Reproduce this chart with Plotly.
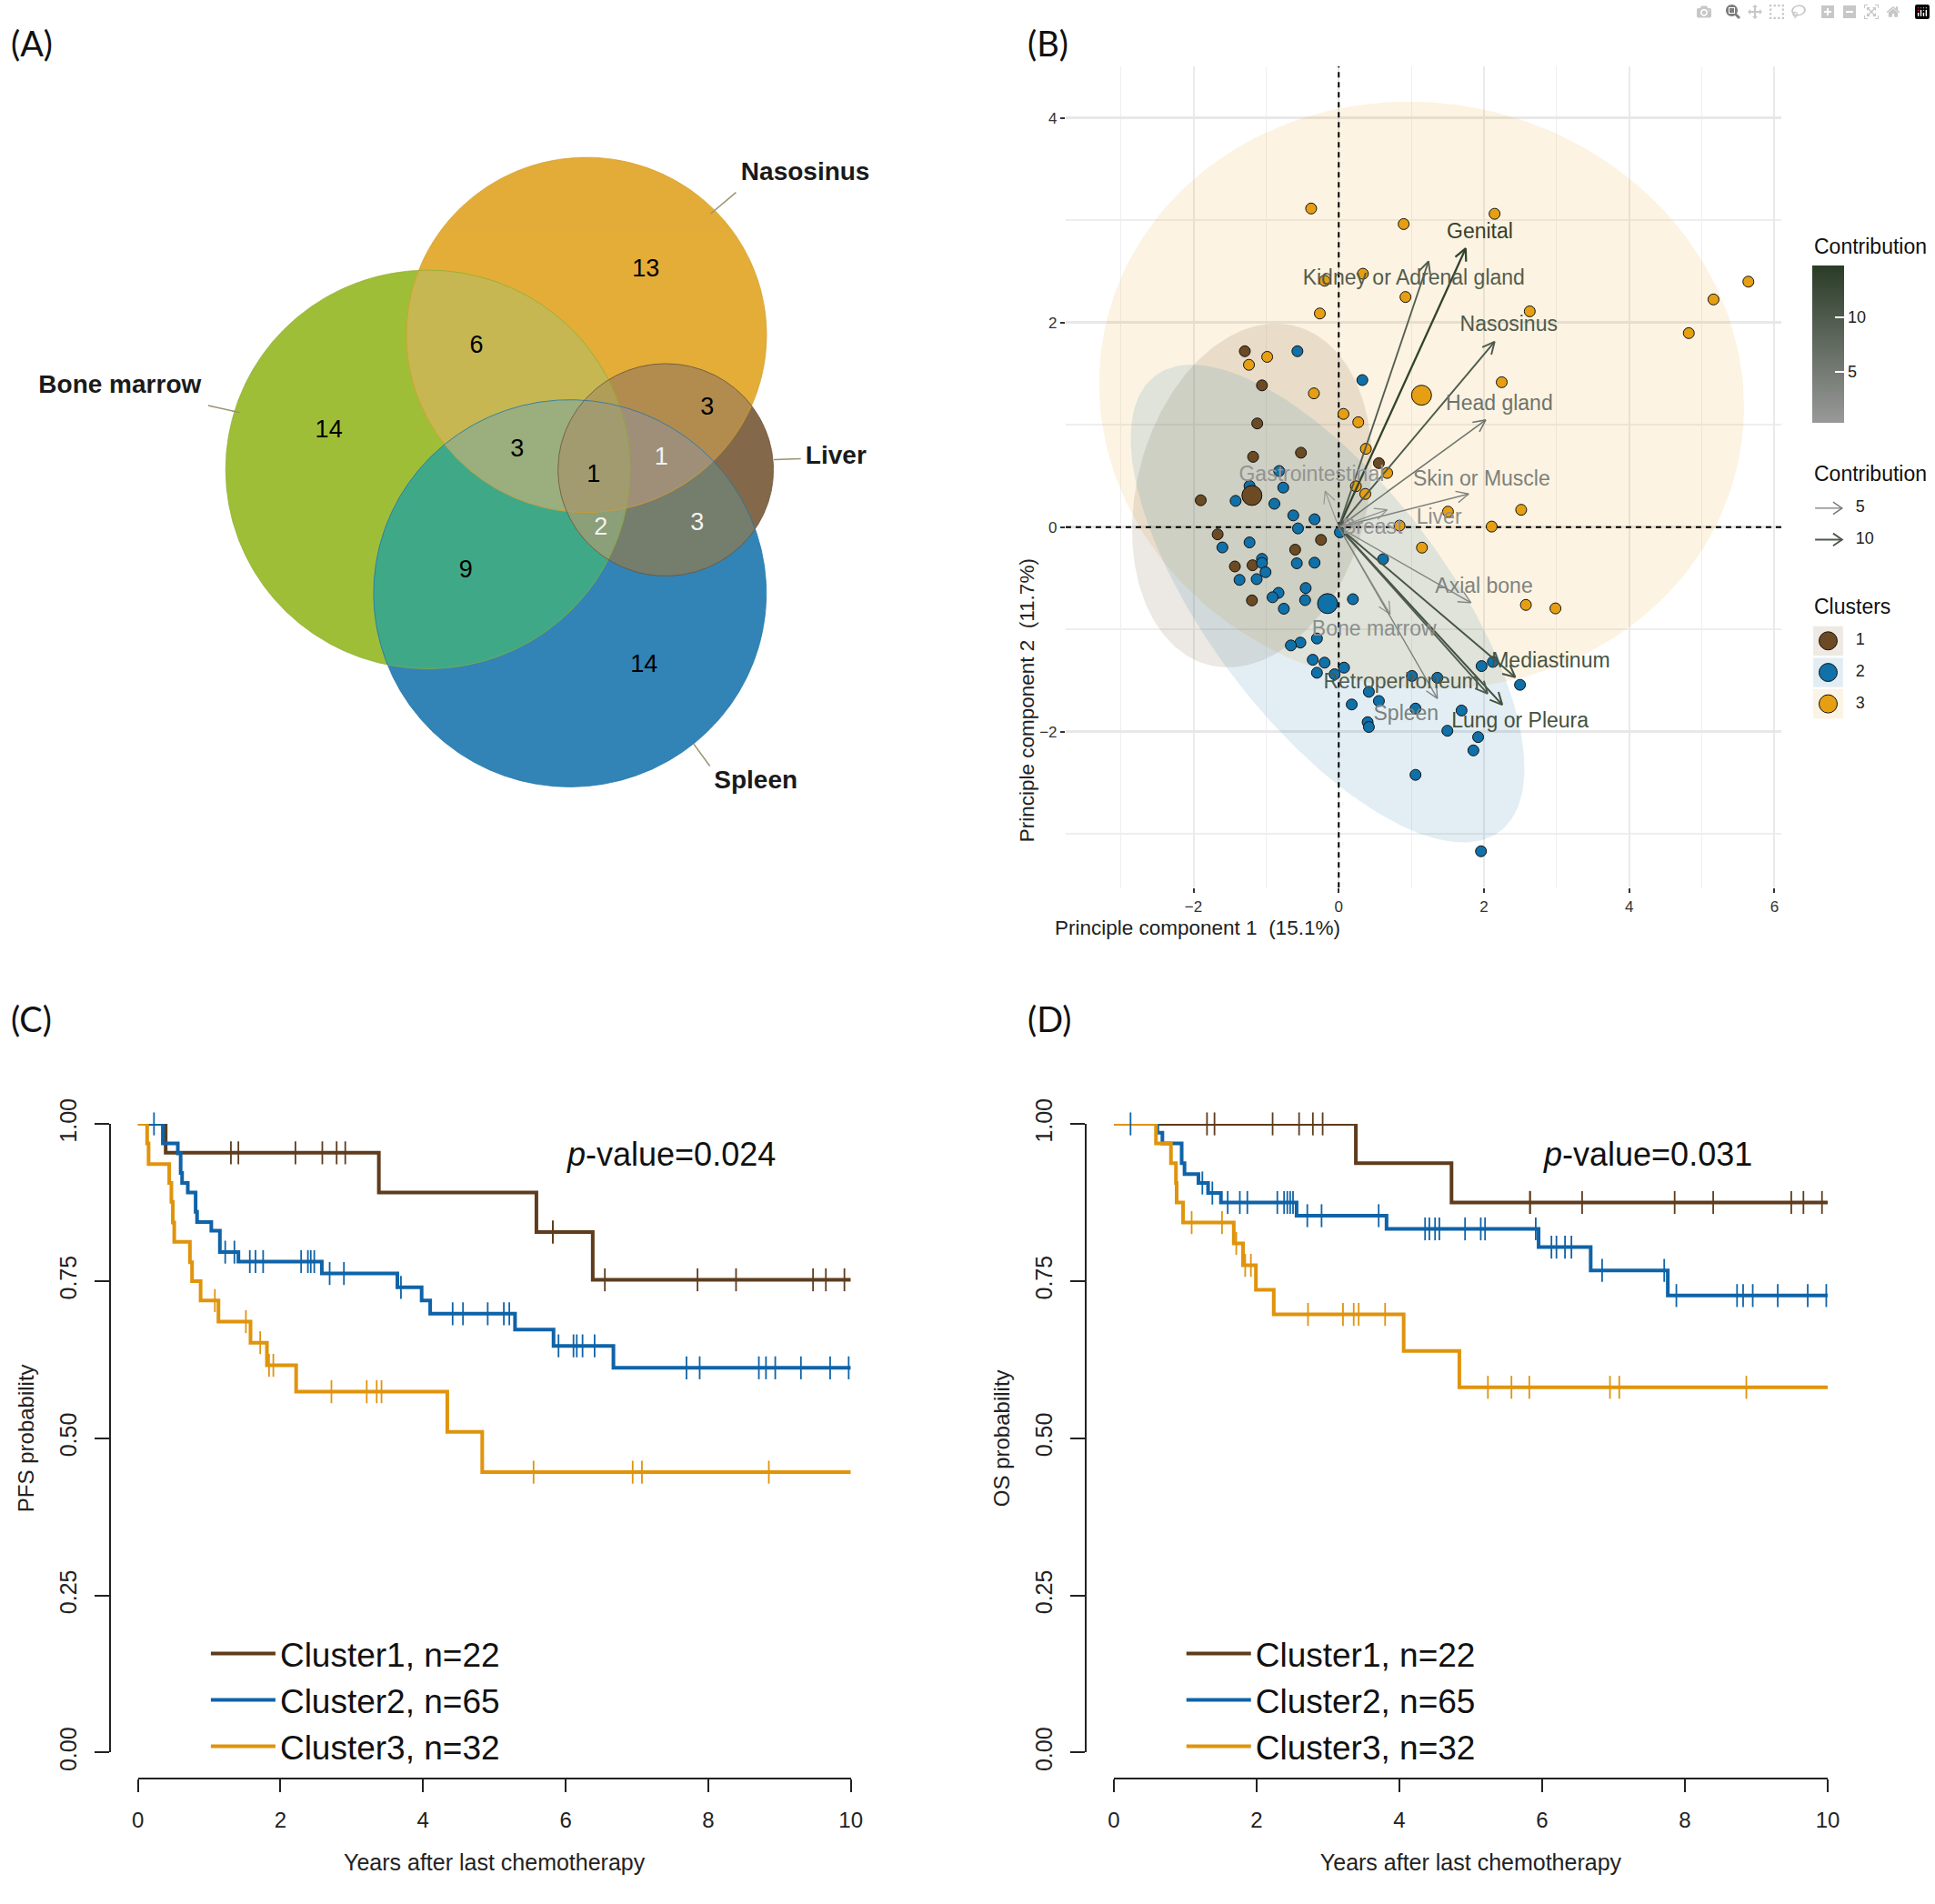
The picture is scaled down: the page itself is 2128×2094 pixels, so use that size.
import numpy as np
import plotly.graph_objects as go
from itertools import combinations

W = 2128
H = 2094

# ---- panel A, venn
venn_sets = ["Bone marrow", "Nasosinus", "Spleen", "Liver"]
venn_cx = [468, 644, 625.7, 732]
venn_cy = [500, 348.5, 639.5, 500.4]
venn_r = [224.5, 200, 218, 119.6]
venn_edge = ["#8FAE30", "#D49E2C", "#1F76AC", "#6B5238"]
venn_label_x = [126, 887, 832, 921]
venn_label_y = [406, 167, 852, 486]
venn_leader_x = [[224, 259], [782, 810], [763, 781], [852, 882]]
venn_leader_y = [[428, 436], [212, 188], [809, 834], [489, 488]]
venn_counts = ["13", "6", "14", "3", "3", "1", "1", "2", "3", "9", "14"]
venn_count_x = [710, 522, 358, 778, 567, 652, 727, 660, 767, 510, 708]
venn_count_y = [276, 362, 457, 431, 478, 507, 488, 566, 561, 615, 721]
venn_count_color = ["black"] * 6 + ["#F2F2F2", "#F2F2F2", "#F2F2F2", "black", "black"]

# region colours, keyed by membership in (bone marrow, nasosinus, spleen, liver)
region_colors = {
    (0,): "#9FBE38",
    (1,): "#E3AD38",
    (2,): "#3284B6",
    (3,): "#84684A",
    (0, 1): "#C6B752",
    (0, 2): "#3FA987",
    (0, 3): "#A2A060",
    (1, 2): "#A5A07A",
    (1, 3): "#B28C4E",
    (2, 3): "#757D6C",
    (0, 1, 2): "#9AAE7E",
    (0, 1, 3): "#B09D57",
    (0, 2, 3): "#8B9F78",
    (1, 2, 3): "#A08F78",
    (0, 1, 2, 3): "#A29B70",
}

# ---- panel B, biplot
pc1_c1 = [-1.293, -1.057, -1.122, -0.52, -1.179, 0.553, -1.90, -1.667, -0.244, -0.60, -1.43, -1.187, -1.195]
pc2_c1 = [1.72, 1.386, 1.014, 0.728, 0.688, 0.626, 0.263, -0.07, -0.124, -0.22, -0.384, -0.372, -0.716]
pc1_c2 = [-0.569, 0.325, -0.82, -1.228, -0.764, -1.42, -0.886, -0.626, -0.333, -0.561, 0.016, -1.228, -1.602,
          -1.057, -1.057, -0.577, -0.333, 0.61, -1.008, -1.366, -1.13, -0.455, -0.829, -0.911, -0.463, 0.195,
          -0.756, -0.30, -0.528, -0.659, -0.358, -0.195, 0.073, -0.30, -0.057, 1.008, 1.358, 1.967, 2.122,
          2.496, 0.415, 0.553, 0.179, 1.057, 1.691, 0.398, 0.415, 1.496, 1.919, 1.854, 1.057, 1.959]
pc2_c2 = [1.72, 1.438, 0.549, 0.403, 0.387, 0.257, 0.229, 0.115, 0.077, -0.012, -0.05, -0.149, -0.198,
          -0.31, -0.35, -0.353, -0.347, -0.313, -0.44, -0.515, -0.508, -0.595, -0.642, -0.685, -0.713, -0.704,
          -0.797, -1.088, -1.128, -1.156, -1.296, -1.324, -1.373, -1.423, -1.438, -1.454, -1.472, -1.358, -1.317,
          -1.541, -1.609, -1.699, -1.733, -1.773, -1.792, -1.906, -1.953, -1.99, -2.052, -2.182, -2.421, -3.168]
pc1_c3 = [-0.38, 0.894, 2.146, 0.333, -0.195, 0.919, -0.26, 2.63, 5.64, 5.16, 4.82, -0.985, -1.236, 2.244,
          -0.342, 0.065, 0.269, 0.374, 0.667, 0.236, 0.366, 1.504, 2.512, 0.837, 2.106, 1.146, 2.577, 2.984]
pc2_c3 = [3.115, 2.963, 3.063, 2.477, 2.409, 2.25, 2.089, 2.11, 2.40, 2.226, 1.897, 1.665, 1.587, 1.417,
          1.308, 1.107, 1.026, 0.766, 0.53, 0.40, 0.325, 0.152, 0.17, 0.015, 0.006, -0.2, -0.76, -0.794]
centroid_x = [-1.195, -0.154, 1.14]
centroid_y = [0.31, -0.747, 1.29]
cluster_colors = ["#6B4A24", "#1070A8", "#E69F12"]

# ellipse extents: half width, half height, correlation
ell_ax = [1.65, 2.71, 4.44]
ell_ay = [1.68, 2.335, 2.87]
ell_rho = [0.2, -0.69, -0.04]
ell_fill = ["rgba(107,74,36,0.13)", "rgba(16,112,168,0.12)", "rgba(230,159,18,0.12)"]

organs = ["Genital", "Kidney or Adrenal gland", "Nasosinus", "Head gland", "Skin or Muscle", "Liver",
          "Gastrointestinal", "Breast", "Axial bone", "Bone marrow", "Mediastinum", "Lung or Pleura",
          "Retroperitoneum", "Spleen"]
load_x = [1.748, 1.236, 2.146, 2.024, 1.789, 0.667, -0.187, 0.25, 1.821, 0.707, 2.431, 2.252, 2.049, 1.358]
load_y = [2.725, 2.598, 1.813, 1.048, 0.325, 0.17, 0.353, 0.03, -0.738, -0.85, -1.466, -1.736, -1.627, -1.674]
contrib = [13.8, 9.5, 10.0, 6.0, 4.0, 1.8, 1.2, 1.0, 3.5, 2.0, 11.0, 11.5, 10.0, 4.0]
organ_label_x = [1.943, 1.033, 2.341, 2.211, 1.967, 1.382, -0.374, 0.463, 2.0, 0.488, 2.919, 2.496, 0.862, 0.927]
organ_label_y = [2.88, 2.424, 1.968, 1.193, 0.462, 0.084, 0.502, -0.01, -0.589, -1.01, -1.32, -1.906, -1.525, -1.838]

# ---- panels C and D, survival curves
pfs_t = [
    [0, 0.39, 3.38, 5.59, 6.38, 10],
    [0, .35, .56, .60, .62, .70, .81, .83, 1.03, 1.15, 1.41, 2.58, 3.64, 3.98, 4.10, 5.29, 5.83, 6.67, 10],
    [0, .13, .15, .44, .47, .49, .51, .73, .76, .88, 1.13, 1.58, 1.81, 2.22, 4.34, 4.83, 10],
]
pfs_s = [
    [1, .954, .891, .828, .752, .752],
    [1, .969, .953, .922, .906, .891, .86, .844, .83, .796, .781, .762, .74, .719, .698, .673, .647, .612, .612],
    [1, .969, .936, .906, .876, .843, .8125, .78, .75, .719, .6855, .652, .616, .574, .51, .446, .446],
]
pfs_cens_t = [
    [1.305, 1.41, 2.21, 2.587, 2.788, 2.909, 5.82, 5.82, 6.55, 7.85, 8.39, 9.47, 9.65, 9.91],
    [.226, 1.225, 1.354, 1.57, 1.65, 1.757, 2.29, 2.385, 2.425, 2.474, 2.69, 2.89, 3.69, 4.415, 4.56, 4.907,
     5.133, 5.21, 5.9, 6.11, 6.156, 6.237, 6.406, 7.695, 7.88, 8.71, 8.81, 8.94, 9.3, 9.71, 9.97],
    [1.08, 1.515, 1.716, 1.84, 1.90, 2.715, 3.21, 3.35, 3.417, 5.55, 6.94, 7.07, 8.85],
]
pfs_cens_s = [
    [.954] * 6 + [.828] * 2 + [.752] * 6,
    [1.0] + [.796] * 2 + [.781] * 7 + [.762] * 2 + [.74] + [.698] * 5 + [.647] * 5 + [.612] * 8,
    [.719, .6855, .652, .616, .616] + [.574] * 4 + [.446] * 4,
]
os_t = [
    [0, 3.39, 4.73, 10],
    [0, .61, .68, .95, .99, 1.185, 1.32, 1.5, 2.56, 3.82, 5.95, 6.68, 7.76, 10],
    [0, .59, .80, .87, .88, .97, 1.68, 1.81, 1.99, 2.24, 4.06, 4.84, 10],
]
os_s = [
    [1, .9375, .875, .875],
    [1, .986, .969, .9375, .92, .906, .89, .875, .854, .833, .804, .767, .727, .727],
    [1, .969, .9375, .906, .875, .843, .81, .775, .736, .697, .639, .581, .581],
]
os_cens_t = [
    [1.305, 1.41, 2.224, 2.595, 2.788, 2.925, 5.83, 5.83, 6.56, 7.856, 8.396, 9.49, 9.66, 9.92],
    [.234, 1.24, 1.38, 1.595, 1.765, 1.87, 2.29, 2.385, 2.43, 2.47, 2.51, 2.71, 2.91, 3.71, 4.36, 4.42, 4.50,
     4.56, 4.92, 5.14, 5.2, 5.91, 6.13, 6.2, 6.32, 6.41, 6.84, 7.71, 7.88, 8.73, 8.815, 8.95, 9.3, 9.72, 9.98],
    [1.09, 1.515, 1.715, 1.84, 1.92, 2.72, 3.21, 3.36, 3.43, 3.8, 5.24, 5.57, 5.82, 6.95, 7.08, 8.86],
]
os_cens_s = [
    [1.0] * 6 + [.875] * 8,
    [1.0, .906, .89] + [.875] * 8 + [.854] * 3 + [.833] * 8 + [.804] * 4 + [.767] * 2 + [.727] * 7,
    [.843, .843, .81, .775, .775] + [.697] * 5 + [.581] * 6,
]
km_names = ["Cluster1, n=22", "Cluster2, n=65", "Cluster3, n=32"]
km_colors = ["#5E3C1D", "#0F63A8", "#E0940C"]
km_yticks = [0, 0.25, 0.5, 0.75, 1]
km_xticks = [0, 2, 4, 6, 8, 10]

SANS = "Liberation Sans"
SCALE_X = 80.6   # biplot pixels per unit, used for the arrow heads
SCALE_Y = 115.2


def frac_x(px):
    return px / W


def frac_y(px):
    return 1 - px / H


def lerp_color(c):
    # same ramp as the colorbar
    t = (c - 0.37) / (14.76 - 0.37)
    low = np.array([153, 153, 153])
    high = np.array([42, 60, 39])
    r, g, b = (low + (high - low) * t).astype(int)
    return f"rgb({r},{g},{b})"


fig = go.Figure()

# ---- panel A
theta = np.linspace(0, 2 * np.pi, 1441)


def circle_intersection(members):
    pts_x = []
    pts_y = []
    for i in members:
        px = venn_cx[i] + venn_r[i] * np.cos(theta)
        py = venn_cy[i] + venn_r[i] * np.sin(theta)
        keep = np.ones(len(px), dtype=bool)
        for j in members:
            if j != i:
                keep &= (px - venn_cx[j]) ** 2 + (py - venn_cy[j]) ** 2 <= venn_r[j] ** 2
        pts_x.extend(px[keep])
        pts_y.extend(py[keep])
    pts_x = np.array(pts_x)
    pts_y = np.array(pts_y)
    order = np.argsort(np.arctan2(pts_y - pts_y.mean(), pts_x - pts_x.mean()))
    return pts_x[order], pts_y[order]


# paint by growing overlap, later regions sit on top of the earlier ones
for n in range(1, 5):
    for members in combinations(range(4), n):
        rx, ry = circle_intersection(members)
        if len(rx) < 3:
            continue
        fig.add_trace(go.Scatter(
            x=rx, y=ry, mode="lines", fill="toself", line=dict(width=0),
            fillcolor=region_colors[members], xaxis="x", yaxis="y",
            showlegend=False, hoverinfo="skip",
        ))

for i in range(4):
    fig.add_trace(go.Scatter(
        x=venn_cx[i] + venn_r[i] * np.cos(theta), y=venn_cy[i] + venn_r[i] * np.sin(theta),
        mode="lines", line=dict(color=venn_edge[i], width=1), opacity=0.75,
        xaxis="x", yaxis="y", showlegend=False, hoverinfo="skip",
    ))
    fig.add_trace(go.Scatter(
        x=venn_leader_x[i], y=venn_leader_y[i], mode="lines",
        line=dict(color="#9A9270", width=1.5), xaxis="x", yaxis="y",
        showlegend=False, hoverinfo="skip",
    ))

fig.add_trace(go.Scatter(
    x=venn_count_x, y=venn_count_y, mode="text", text=venn_counts,
    textfont=dict(family=SANS, size=27, color=venn_count_color),
    xaxis="x", yaxis="y", showlegend=False, hoverinfo="skip",
))
fig.add_trace(go.Scatter(
    x=venn_label_x, y=venn_label_y, mode="text", text=[f"<b>{s}</b>" for s in venn_sets],
    textfont=dict(family=SANS, size=28, color="#1A1A1A"),
    xaxis="x", yaxis="y", showlegend=False, hoverinfo="skip",
))

# ---- panel B
t_ell = np.linspace(0, 2 * np.pi, 240)
for k in [2, 0, 1]:
    phi = np.arccos(ell_rho[k])
    fig.add_trace(go.Scatter(
        x=centroid_x[k] + ell_ax[k] * np.cos(t_ell),
        y=centroid_y[k] + ell_ay[k] * np.cos(t_ell - phi),
        mode="lines", fill="toself", line=dict(width=0), fillcolor=ell_fill[k],
        xaxis="x2", yaxis="y2", showlegend=False, hoverinfo="skip",
    ))

fig.add_trace(go.Scatter(
    x=[-3.76, 6.1], y=[0, 0], mode="lines", line=dict(color="black", width=2, dash="6px,5px"),
    xaxis="x2", yaxis="y2", showlegend=False, hoverinfo="skip",
))
fig.add_trace(go.Scatter(
    x=[0, 0], y=[-3.524, 4.505], mode="lines", line=dict(color="black", width=2, dash="6px,5px"),
    xaxis="x2", yaxis="y2", showlegend=False, hoverinfo="skip",
))

for px_, py_, col in zip([pc1_c1, pc1_c2, pc1_c3], [pc2_c1, pc2_c2, pc2_c3], cluster_colors):
    fig.add_trace(go.Scatter(
        x=px_, y=py_, mode="markers",
        marker=dict(size=12, color=col, line=dict(color="#111111", width=1)),
        xaxis="x2", yaxis="y2", showlegend=False,
    ))
fig.add_trace(go.Scatter(
    x=centroid_x, y=centroid_y, mode="markers",
    marker=dict(size=22, color=cluster_colors, line=dict(color="#111111", width=1)),
    xaxis="x2", yaxis="y2", showlegend=False,
))

for i in range(len(organs)):
    ang = np.arctan2(load_y[i] * SCALE_Y, load_x[i] * SCALE_X)
    b1 = ang + np.pi - 0.45
    b2 = ang + np.pi + 0.45
    hx = [load_x[i] + 15 * np.cos(b1) / SCALE_X, load_x[i], load_x[i] + 15 * np.cos(b2) / SCALE_X]
    hy = [load_y[i] + 15 * np.sin(b1) / SCALE_Y, load_y[i], load_y[i] + 15 * np.sin(b2) / SCALE_Y]
    fig.add_trace(go.Scatter(
        x=[0, load_x[i], None] + hx, y=[0, load_y[i], None] + hy, mode="lines",
        line=dict(color=lerp_color(contrib[i]), width=1 + contrib[i] * 0.09),
        xaxis="x2", yaxis="y2", showlegend=False, hoverinfo="skip",
    ))
fig.add_trace(go.Scatter(
    x=organ_label_x, y=organ_label_y, mode="text", text=organs,
    textfont=dict(family=SANS, size=23, color=[lerp_color(c) for c in contrib]),
    xaxis="x2", yaxis="y2", showlegend=False, hoverinfo="skip",
))

# hidden points at the arrow tips, they carry the colorbar
fig.add_trace(go.Scatter(
    x=load_x, y=load_y, mode="markers",
    marker=dict(
        size=1, opacity=0, color=contrib, cmin=0.37, cmax=14.76,
        colorscale=[[0, "#999999"], [1, "#2A3C27"]],
        colorbar=dict(
            x=frac_x(2005), xanchor="left", xpad=0,
            y=frac_y(270), yanchor="top", ypad=0,
            len=177 / H, lenmode="fraction", thickness=35, thicknessmode="pixels",
            outlinewidth=0, tickvals=[5, 10], ticktext=["5", "10"], ticks="inside",
            ticklen=10, tickwidth=1.5, tickcolor="white",
            tickfont=dict(family=SANS, size=18, color="#222222"),
        ),
    ),
    xaxis="x2", yaxis="y2", showlegend=False, hoverinfo="skip",
))

# legend keys to the right of the biplot, x5/y5 run in pixels
key_arrow_y = [543.6, 579]
key_arrow_val = [5, 10]
for yy, val in zip(key_arrow_y, key_arrow_val):
    fig.add_trace(go.Scatter(
        x=[2008, 2038, None, 2028, 2038, 2028], y=[yy, yy, None, yy - 7, yy, yy + 7], mode="lines",
        line=dict(color=lerp_color(val), width=1 + val * 0.09),
        xaxis="x5", yaxis="y5", showlegend=False, hoverinfo="skip",
    ))
key_cluster_y = [693, 728.6, 764]
fig.add_trace(go.Scatter(
    x=[2022.5] * 3, y=key_cluster_y, mode="markers",
    marker=dict(size=20, color=cluster_colors, line=dict(color="#111111", width=1)),
    xaxis="x5", yaxis="y5", showlegend=False, hoverinfo="skip",
))
key_labels = ["5", "10", "1", "2", "3"]
fig.add_trace(go.Scatter(
    x=[2053] * 5, y=key_arrow_y + key_cluster_y, mode="text", text=key_labels, textposition="middle right",
    textfont=dict(family=SANS, size=18, color="#222222"),
    xaxis="x5", yaxis="y5", showlegend=False, hoverinfo="skip",
))

# ---- panels C and D
panels = [
    (pfs_t, pfs_s, pfs_cens_t, pfs_cens_s, "x3", "y3", "legend"),
    (os_t, os_s, os_cens_t, os_cens_s, "x4", "y4", "legend2"),
]
for tt, ss, ct, cs, xa, ya, leg in panels:
    for k in range(3):
        fig.add_trace(go.Scatter(
            x=tt[k], y=ss[k], mode="lines", name=km_names[k], legendgroup=f"{leg}{k}", legend=leg,
            line=dict(color=km_colors[k], width=4, shape="hv"), cliponaxis=False,
            xaxis=xa, yaxis=ya,
        ))
    for k in range(3):
        fig.add_trace(go.Scatter(
            x=ct[k], y=cs[k], mode="markers", cliponaxis=False,
            marker=dict(symbol="line-ns", size=18, line=dict(color=km_colors[k], width=1.8)),
            xaxis=xa, yaxis=ya, showlegend=False, hoverinfo="skip",
        ))

# ---- axes
hidden = dict(visible=False, showgrid=False, zeroline=False)
km_x = dict(
    range=[0, 10], tickvals=km_xticks, showline=True, linecolor="#222222", linewidth=2, ticks="outside",
    ticklen=14, tickwidth=1.5, tickcolor="#222222", showgrid=False, zeroline=False,
    tickfont=dict(family=SANS, size=24, color="#222222"), ticklabelstandoff=10,
    title=dict(text="Years after last chemotherapy", font=dict(family=SANS, size=25, color="#222222"), standoff=24),
    anchor="free", position=frac_y(1974.5),
)
km_y = dict(
    range=[0, 1], tickvals=km_yticks, tickformat=".2f", tickangle=-90, showline=True, linecolor="#222222",
    linewidth=2, ticks="outside", ticklen=16, tickwidth=1.5, tickcolor="#222222", showgrid=False, zeroline=False,
    tickfont=dict(family=SANS, size=25, color="#222222"), ticklabelstandoff=10,
    anchor="free",
)
bi_x = dict(
    range=[-3.76, 6.1], tickvals=[-2, 0, 2, 4, 6], showgrid=True, gridcolor="#EAEAEA", gridwidth=1.5,
    zeroline=False, ticks="outside", ticklen=5, tickwidth=2, tickcolor="#333333",
    tickfont=dict(family=SANS, size=17, color="#333333"),
    minor=dict(tickvals=[-3, -1, 1, 3, 5], showgrid=True, gridcolor="#EFEFEF", gridwidth=1, ticks=""),
    domain=[frac_x(1176), frac_x(1971)], anchor="y2",
)
bi_y = dict(
    range=[-3.524, 4.505], tickvals=[-2, 0, 2, 4], showgrid=True, gridcolor="#E8E8E8", gridwidth=2.5,
    zeroline=False, ticks="outside", ticklen=5, tickwidth=2, tickcolor="#333333",
    tickfont=dict(family=SANS, size=17, color="#333333"),
    minor=dict(tickvals=[-3, -1, 1, 3], showgrid=True, gridcolor="#EEEEEE", gridwidth=1.5, ticks=""),
    domain=[frac_y(971), frac_y(46)], anchor="x2",
)

annotations = []
for text, ax_, ay_ in [("(A)", 3, 19), ("(B)", 1132, 19), ("(C)", 3, 1118), ("(D)", 1132, 1118)]:
    annotations.append(dict(
        text=text, x=frac_x(ax_), y=frac_y(ay_), xref="paper", yref="paper", xanchor="left", yanchor="middle",
        showarrow=False, font=dict(family="Lato", size=38, color="#111111"),
    ))
for text, ax_ in [("<i>p</i>-value=0.024", 620), ("<i>p</i>-value=0.031", 1704)]:
    annotations.append(dict(
        text=text, x=frac_x(ax_), y=frac_y(1271), xref="paper", yref="paper", xanchor="left", yanchor="middle",
        showarrow=False, font=dict(family=SANS, size=36, color="#111111"),
    ))
annotations.append(dict(
    text="Principle component 1  (15.1%)", x=frac_x(1483), y=frac_y(1016), xref="paper", yref="paper",
    showarrow=False, font=dict(family=SANS, size=22.5, color="#222222"),
))
annotations.append(dict(
    text="Principle component 2  (11.7%)", x=frac_x(1133), y=frac_y(598), xref="paper", yref="paper",
    textangle=-90, showarrow=False, font=dict(family=SANS, size=22.5, color="#222222"),
))
for text, ax_, ay_ in [("Contribution", 2005, 249), ("Contribution", 2005, 505), ("Clusters", 2005, 654)]:
    annotations.append(dict(
        text=text, x=frac_x(ax_), y=frac_y(ay_), xref="paper", yref="paper", xanchor="left", yanchor="middle",
        showarrow=False, font=dict(family=SANS, size=23, color="#111111"),
    ))

key_tints = ["#EEE9E2", "#E2EDF3", "#FBF3E3"]
shapes = []
for yy, tint in zip(key_cluster_y, key_tints):
    shapes.append(dict(
        type="rect", xref="x5", yref="y5", x0=2006, x1=2039, y0=yy - 16.5, y1=yy + 16.5,
        fillcolor=tint, line=dict(width=0), layer="below",
    ))

legend_common = dict(
    bgcolor="rgba(0,0,0,0)", borderwidth=0, xanchor="left", yanchor="top", itemwidth=71, tracegroupgap=12,
    font=dict(family=SANS, size=37, color="#111111"), traceorder="normal", itemclick=False, itemdoubleclick=False,
)

fig.update_layout(
    width=W,
    height=H,
    margin=dict(l=0, r=0, t=0, b=0),
    autosize=False,
    paper_bgcolor="white",
    plot_bgcolor="rgba(0,0,0,0)",
    showlegend=True,
    hovermode=False,
    xaxis=dict(domain=[0, frac_x(1064)], range=[0, 1064], anchor="y", **hidden),
    yaxis=dict(domain=[frac_y(1060), 1], range=[1060, 0], anchor="x", **hidden),
    xaxis2=bi_x,
    yaxis2=bi_y,
    xaxis3=dict(domain=[frac_x(146), frac_x(937.5)], **km_x),
    yaxis3=dict(
        domain=[frac_y(1945), frac_y(1237)], position=frac_x(115.4),
        title=dict(text="PFS probability", font=dict(family=SANS, size=24, color="#222222"), standoff=16), **km_y,
    ),
    xaxis4=dict(domain=[frac_x(1229.5), frac_x(2022)], **km_x),
    yaxis4=dict(
        domain=[frac_y(1945), frac_y(1237)], position=frac_x(1198.6),
        title=dict(text="OS probability", font=dict(family=SANS, size=24, color="#222222"), standoff=16), **km_y,
    ),
    xaxis5=dict(domain=[frac_x(1990), 1], range=[1990, 2128], anchor="y5", **hidden),
    yaxis5=dict(domain=[frac_y(800), frac_y(520)], range=[800, 520], anchor="x5", **hidden),
    legend=dict(x=frac_x(222), y=frac_y(1802), **legend_common),
    legend2=dict(x=frac_x(1305), y=frac_y(1802), **legend_common),
    annotations=annotations,
    shapes=shapes,
)

fig.write_html("out.html", post_script="document.body.style.margin='0';")
